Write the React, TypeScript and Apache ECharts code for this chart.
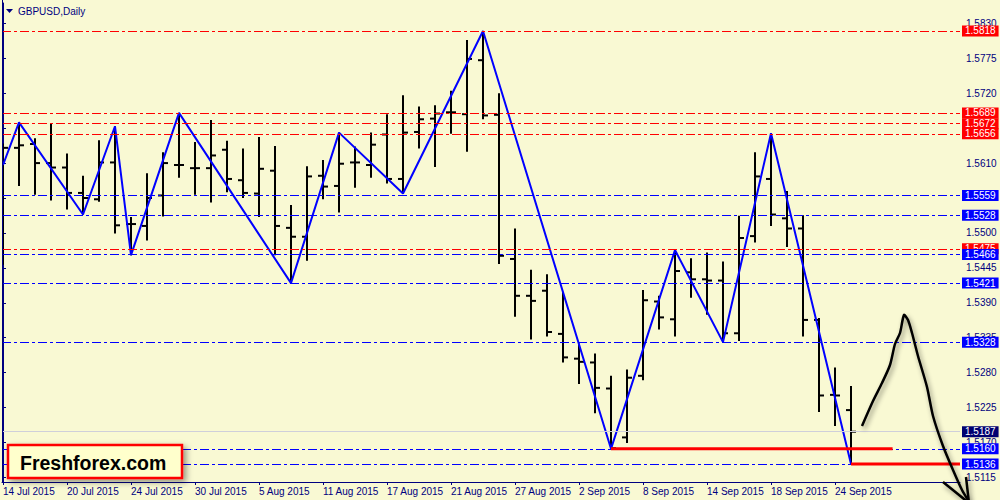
import React, { useEffect, useRef } from "react";
import * as echarts from "echarts";

// ---- data ----
const dates = [
  "14 Jul 2015", "15 Jul 2015", "16 Jul 2015", "17 Jul 2015", "20 Jul 2015", "21 Jul 2015", "22 Jul 2015",
  "23 Jul 2015", "24 Jul 2015", "27 Jul 2015", "28 Jul 2015", "29 Jul 2015", "30 Jul 2015", "31 Jul 2015",
  "3 Aug 2015", "4 Aug 2015", "5 Aug 2015", "6 Aug 2015", "7 Aug 2015", "10 Aug 2015", "11 Aug 2015",
  "12 Aug 2015", "13 Aug 2015", "14 Aug 2015", "17 Aug 2015", "18 Aug 2015", "19 Aug 2015", "20 Aug 2015",
  "21 Aug 2015", "24 Aug 2015", "25 Aug 2015", "26 Aug 2015", "27 Aug 2015", "28 Aug 2015", "31 Aug 2015",
  "1 Sep 2015", "2 Sep 2015", "3 Sep 2015", "4 Sep 2015", "7 Sep 2015", "8 Sep 2015", "9 Sep 2015",
  "10 Sep 2015", "11 Sep 2015", "14 Sep 2015", "15 Sep 2015", "16 Sep 2015", "17 Sep 2015", "18 Sep 2015",
  "21 Sep 2015", "22 Sep 2015", "23 Sep 2015", "24 Sep 2015", "25 Sep 2015",
];

const openP = [
  1.5465, 1.5634, 1.5640, 1.5610, 1.5603, 1.5563, 1.5553, 1.5611, 1.5514, 1.5511,
  1.5559, 1.5607, 1.5602, 1.5602, 1.5631, 1.5583, 1.5562, 1.5598, 1.5508, 1.5494,
  1.5590, 1.5574, 1.5611, 1.5607, 1.5655, 1.5585, 1.5659, 1.5680, 1.5690, 1.5687,
  1.5772, 1.5686, 1.5459, 1.5401, 1.5409, 1.5341, 1.5302, 1.5296, 1.5255, 1.5178,
  1.5275, 1.5392, 1.5364, 1.5438, 1.5427, 1.5425, 1.5342, 1.5495, 1.5585, 1.5523,
  1.5507, 1.5363, 1.5245, 1.5221,
];
const highP = [
  1.5641, 1.5674, 1.5649, 1.5672, 1.5625, 1.5590, 1.5646, 1.5668, 1.5525, 1.5594,
  1.5627, 1.5689, 1.5643, 1.5678, 1.5645, 1.5633, 1.5651, 1.5637, 1.5544, 1.5605,
  1.5615, 1.5658, 1.5636, 1.5658, 1.5687, 1.5717, 1.5699, 1.5701, 1.5724, 1.5804,
  1.5818, 1.5720, 1.5507, 1.5442, 1.5435, 1.5407, 1.5326, 1.5310, 1.5275, 1.5285,
  1.5410, 1.5401, 1.5473, 1.5460, 1.5469, 1.5455, 1.5527, 1.5627, 1.5657, 1.5566,
  1.5528, 1.5366, 1.5288, 1.5259,
];
const lowP = [
  1.5450, 1.5574, 1.5560, 1.5551, 1.5537, 1.5529, 1.5549, 1.5499, 1.5465, 1.5488,
  1.5526, 1.5587, 1.5560, 1.5548, 1.5564, 1.5555, 1.5525, 1.5465, 1.5421, 1.5456,
  1.5553, 1.5532, 1.5571, 1.5587, 1.5578, 1.5562, 1.5633, 1.5604, 1.5656, 1.5628,
  1.5679, 1.5451, 1.5368, 1.5332, 1.5337, 1.5296, 1.5262, 1.5216, 1.5160, 1.5169,
  1.5268, 1.5348, 1.5337, 1.5398, 1.5371, 1.5328, 1.5330, 1.5485, 1.5511, 1.5478,
  1.5337, 1.5218, 1.5196, 1.5136,
];
const closeP = [
  1.5634, 1.5638, 1.5610, 1.5603, 1.5563, 1.5555, 1.5611, 1.5512, 1.5514, 1.5555,
  1.5610, 1.5607, 1.5602, 1.5622, 1.5585, 1.5563, 1.5601, 1.5511, 1.5494, 1.5589,
  1.5573, 1.5609, 1.5611, 1.5639, 1.5585, 1.5658, 1.5679, 1.5688, 1.5690, 1.5774,
  1.5685, 1.5464, 1.5401, 1.5393, 1.5344, 1.5304, 1.5297, 1.5256, 1.5161, 1.5272,
  1.5394, 1.5367, 1.5440, 1.5427, 1.5425, 1.5342, 1.5492, 1.5589, 1.5529, 1.5507,
  1.5363, 1.5244, 1.5244, 1.5187,
];

const zigzagIdx = [0, 1, 5, 7, 8, 11, 18, 21, 25, 30, 38, 42, 45, 48, 53];
const zigzagVal = [1.5607, 1.5674, 1.5529, 1.5668, 1.5465, 1.5689, 1.5421, 1.5658, 1.5562, 1.5818, 1.5160, 1.5473, 1.5328, 1.5657, 1.5136];

const redLevels = [1.5818, 1.5689, 1.5672, 1.5656, 1.5475];
const blueLevels = [1.5559, 1.5528, 1.5466, 1.5421, 1.5328, 1.5160, 1.5136];
const bidLevel = 1.5187;
// support segments: start index, end index, price
const supportStart = [38, 53];
const supportEnd = [55.6, 59.8125];
const supportPrice = [1.5160, 1.5136];

const yTicks = [1.5115, 1.5170, 1.5225, 1.5280, 1.5335, 1.5390, 1.5445, 1.5500, 1.5555, 1.5610, 1.5665, 1.5720, 1.5775, 1.5830];
const yLabels = [1.5115, 1.5170, 1.5225, 1.5280, 1.5335, 1.5390, 1.5445, 1.5500, 1.5610, 1.5720, 1.5775, 1.5830];
const xTicks = [0, 4, 8, 12, 16, 20, 24, 28, 32, 36, 40, 44, 48, 52];

const BG = "#F9F9D3";
const NAVY = "#000080";
const FONT = 'Tahoma, "Liberation Sans", Arial, sans-serif';

function levelItem(v: number, color: string, bg: string) {
  return {
    yAxis: v,
    lineStyle: { color, width: 1, type: [9, 3, 3, 3] },
    label: {
      show: true,
      position: "end",
      distance: 2,
      formatter: v.toFixed(4),
      color: "#ffffff",
      backgroundColor: bg,
      padding: [1, 3, 0, 3],
      fontSize: 10,
      lineHeight: 10,
      fontFamily: FONT,
    },
  };
}

export default function App() {
  const ref = useRef<HTMLDivElement>(null);
  useEffect(() => {
    if (!ref.current) return;
    const chart = echarts.init(ref.current, null, { renderer: "svg" });
    const ohlc = dates.map((_, i) => [i, openP[i], highP[i], lowP[i], closeP[i]]);
    const zz = zigzagIdx.map((i, k) => [i, zigzagVal[k]]);

    const markData: any[] = [];
    redLevels.forEach((v) => markData.push(levelItem(v, "#FF0000", "#FF0000")));
    markData.push({
      yAxis: bidLevel,
      lineStyle: { color: "#CFCFDA", width: 1, type: "solid" },
      label: {
        show: true,
        position: "end",
        distance: 2,
        formatter: bidLevel.toFixed(4),
        color: "#ffffff",
        backgroundColor: "#000070",
        padding: [1, 3, 0, 3],
        fontSize: 10,
        lineHeight: 10,
        fontFamily: FONT,
      },
    });
    blueLevels.forEach((v) => markData.push(levelItem(v, "#0000FF", "#0000FF")));

    const supportSeries = supportPrice.map((p, k) => ({
      type: "line",
      z: 6,
      data: [
        [supportStart[k], p],
        [supportEnd[k], p],
      ],
      showSymbol: false,
      symbol: "none",
      clip: false,
      lineStyle: { color: "#FF0000", width: 3 },
    }));

    chart.setOption({
      animation: false,
      backgroundColor: BG,
      grid: { left: 2, right: 40, top: 3, bottom: 18, containLabel: false },
      xAxis: {
        type: "value",
        min: -0.0625,
        max: 59.8125,
        splitLine: { show: false },
        axisLine: { show: true, onZero: false, lineStyle: { color: NAVY, width: 1 } },
        axisTick: { show: true, length: 3, customValues: xTicks, lineStyle: { color: NAVY } },
        axisLabel: {
          customValues: xTicks,
          formatter: (v: number) => dates[Math.round(v)] || "",
          color: NAVY,
          fontSize: 10,
          fontFamily: FONT,
          align: "left",
          margin: 4,
        },
      },
      yAxis: {
        type: "value",
        position: "right",
        min: 1.5107764,
        max: 1.5862094,
        scale: true,
        splitLine: { show: false },
        axisLine: { show: true, lineStyle: { color: NAVY, width: 1 } },
        axisTick: { show: true, length: 3, customValues: yTicks, lineStyle: { color: NAVY } },
        axisLabel: {
          customValues: yLabels,
          formatter: (v: number) => v.toFixed(4),
          color: NAVY,
          fontSize: 10,
          fontFamily: FONT,
          margin: 6,
        },
      },
      series: [
        {
          type: "custom",
          z: 2,
          clip: true,
          data: ohlc,
          encode: { x: 0, y: [1, 2, 3, 4] },
          renderItem: (params: any, api: any) => {
            const x = api.value(0);
            const pH = api.coord([x, api.value(2)]);
            const pL = api.coord([x, api.value(3)]);
            const pO = api.coord([x, api.value(1)]);
            const pC = api.coord([x, api.value(4)]);
            const cx = Math.round(pH[0]);
            const st = { stroke: "#000000", lineWidth: 2 };
            return {
              type: "group",
              children: [
                { type: "line", shape: { x1: cx, y1: pH[1], x2: cx, y2: pL[1] }, style: st },
                { type: "line", shape: { x1: cx - 5, y1: pO[1], x2: cx, y2: pO[1] }, style: st },
                { type: "line", shape: { x1: cx, y1: pC[1], x2: cx + 5, y2: pC[1] }, style: st },
              ],
            };
          },
        },
        {
          type: "line",
          z: 3,
          data: zz,
          showSymbol: false,
          symbol: "none",
          lineStyle: { color: "#0000FF", width: 2 },
          markLine: {
            silent: true,
            precision: 4,
            symbol: ["none", "none"],
            animation: false,
            data: markData,
          },
        },
        ...supportSeries,
      ],
      graphic: [
        {
          type: "line",
          z: 50,
          shape: { x1: 2.5, y1: 0, x2: 2.5, y2: 482 },
          style: { stroke: NAVY, lineWidth: 1 },
        },
        {
          type: "polygon",
          z: 50,
          shape: { points: [[6, 9], [13, 9], [9.5, 13]] },
          style: { fill: NAVY },
        },
        {
          type: "text",
          z: 50,
          x: 18,
          y: 11,
          style: { text: "GBPUSD,Daily", fill: NAVY, font: `10px ${FONT}`, verticalAlign: "middle" },
        },
        {
          type: "polyline",
          z: 60,
          shape: {
            smooth: 0.25,
            points: [
              [862, 426], [873, 401], [882, 383], [890, 365], [895, 344], [900, 333],
              [904, 315], [908, 320], [912, 333], [918, 356], [927, 387], [933, 416],
              [943, 446], [953, 470], [962, 490], [968, 500],
            ],
          },
          style: {
            stroke: "#000000",
            lineWidth: 2.5,
            fill: null,
            shadowBlur: 5,
            shadowColor: "rgba(0,0,0,0.45)",
            shadowOffsetX: 2,
            shadowOffsetY: 3,
          },
        },
        {
          type: "polyline",
          z: 60,
          shape: { points: [[943, 482], [969, 503], [966, 477]] },
          style: {
            stroke: "#000000",
            lineWidth: 2.5,
            fill: null,
            shadowBlur: 5,
            shadowColor: "rgba(0,0,0,0.45)",
            shadowOffsetX: 2,
            shadowOffsetY: 3,
          },
        },
        {
          type: "rect",
          z: 70,
          shape: { x: 8, y: 445, width: 174, height: 33 },
          style: {
            fill: "#FFFFCC",
            stroke: "#FF0000",
            lineWidth: 2.5,
            shadowBlur: 6,
            shadowColor: "rgba(0,0,0,0.4)",
            shadowOffsetX: 3,
            shadowOffsetY: 3,
          },
        },
        {
          type: "text",
          z: 71,
          x: 20,
          y: 463,
          style: {
            text: "Freshforex.com",
            fill: "#000000",
            font: `bold 19.5px "Liberation Sans", Arial, sans-serif`,
            verticalAlign: "middle",
          },
        },
      ],
    });
    return () => chart.dispose();
  }, []);
  return <div ref={ref} style={{ position: "fixed", left: 0, top: 0, width: 1000, height: 500 }} />;
}
